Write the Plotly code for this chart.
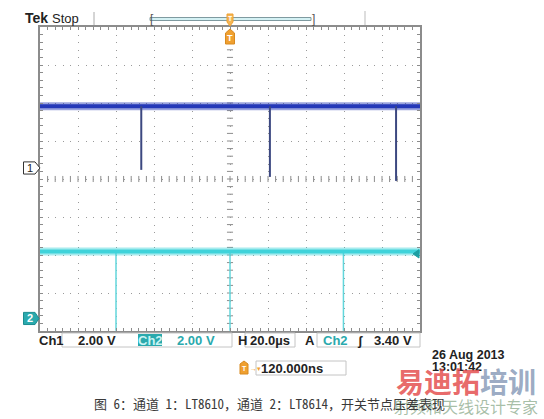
import plotly.graph_objects as go

# ---------------- data ----------------
time_range_us = [-100.0, 100.0]          # 10 div x 20.0 us/div
div_range = [-4.0, 4.0]                   # 8 vertical divisions

ch1_volts_per_div = 2.00
ch2_volts_per_div = 2.00
ch1_offset_div = 0.29                     # ground marker "1"
ch2_offset_div = -3.67                    # ground marker "2"
trigger_level_v = 3.40

ch1_level_v = 3.25
ch1_dip_times_us = [-46.7, 21.0, 87.4]
ch1_dip_min_v = [-0.10, -0.47, -0.68]

ch2_level_v = 3.53
ch2_dip_times_us = [-60.0, 0.0, 59.7]
ch2_dip_min_v = [-0.65, -0.65, -0.65]

info_labels = ["Ch1", "2.00 V", "Ch2", "2.00 V", "H", "20.0µs", "A", "Ch2", "ʃ", "3.40 V"]
trigger_delay_label = "120.000ns"
date_label = "26 Aug 2013"
time_label = "13:01:42"
caption = "图 6：通道 1：LT8610，通道 2：LT8614，开关节点压差表现"

# ---------------- helpers ----------------
W, H = 544, 419
L, R, T, B = 40, 420, 27, 331


def X(px):
    return (px - L) / (R - L)


def Y(py):
    return (B - py) / (B - T)


def to_div(v, vpd, off):
    return v / vpd + off


BLUE = "#2438b8"
BLUE_DIP = "#3c4880"
CYAN = "#3fd3da"
CYAN_DIP = "#62d6db"
TEAL = "#2aa9ad"
ORANGE = "#f0a030"
GRID = "#9a9a9a"
FRAME = "#8c8c8c"

fig = go.Figure()

# channel 1 band + dips
y1 = to_div(ch1_level_v, ch1_volts_per_div, ch1_offset_div)
fig.add_trace(go.Scatter(x=time_range_us, y=[y1, y1], mode="lines",
                         line=dict(color=BLUE, width=8), opacity=0.45, hoverinfo="skip"))
fig.add_trace(go.Scatter(x=time_range_us, y=[y1, y1], mode="lines",
                         line=dict(color=BLUE, width=4), hoverinfo="skip"))
dx, dy = [], []
for t, vmin in zip(ch1_dip_times_us, ch1_dip_min_v):
    dx += [t, t, None]
    dy += [y1, to_div(vmin, ch1_volts_per_div, ch1_offset_div), None]
fig.add_trace(go.Scatter(x=dx, y=dy, mode="lines",
                         line=dict(color=BLUE_DIP, width=2), hoverinfo="skip"))

# channel 2 band + dips
y2 = to_div(ch2_level_v, ch2_volts_per_div, ch2_offset_div)
dx, dy = [], []
for t, vmin in zip(ch2_dip_times_us, ch2_dip_min_v):
    dx += [t, t, None]
    dy += [y2, to_div(vmin, ch2_volts_per_div, ch2_offset_div), None]
fig.add_trace(go.Scatter(x=dx, y=dy, mode="lines",
                         line=dict(color=CYAN_DIP, width=1.5), hoverinfo="skip"))
fig.add_trace(go.Scatter(x=time_range_us, y=[y2, y2], mode="lines",
                         line=dict(color=CYAN, width=8), opacity=0.45, hoverinfo="skip"))
fig.add_trace(go.Scatter(x=time_range_us, y=[y2, y2], mode="lines",
                         line=dict(color=CYAN, width=4), hoverinfo="skip"))

shapes = []
# centre-line tick marks of the graticule
xdiv = (time_range_us[1] - time_range_us[0]) / 10.0
for i in range(-24, 25):
    t = i * xdiv / 5.0
    shapes.append(dict(type="line", xref="x", yref="y", x0=t, x1=t, y0=-0.08, y1=0.08,
                       line=dict(color=FRAME, width=1), layer="below"))
for i in range(-19, 20):
    d = i / 5.0
    shapes.append(dict(type="line", xref="x", yref="y", x0=-xdiv * 0.08, x1=xdiv * 0.08,
                       y0=d, y1=d, line=dict(color=FRAME, width=1), layer="below"))

# header decorations
shapes.append(dict(type="line", xref="paper", yref="paper", x0=X(94), x1=X(94), y0=Y(12), y1=Y(25),
                   line=dict(color="#aaaaaa", width=1)))
shapes.append(dict(type="rect", xref="paper", yref="paper", x0=X(150), x1=X(311), y0=Y(20.5), y1=Y(17.5),
                   line=dict(color="#7f9aa0", width=1), fillcolor="#d4f1f4"))
shapes.append(dict(type="line", xref="paper", yref="paper", x0=X(365), x1=X(365), y0=Y(11), y1=Y(25),
                   line=dict(color="#bbbbbb", width=1)))
# trigger position markers
shapes.append(dict(type="path", xref="paper", yref="paper",
                   path=f"M {X(227)} {Y(14)} L {X(233)} {Y(14)} L {X(233)} {Y(22)} L {X(230)} {Y(26)} L {X(227)} {Y(22)} Z",
                   fillcolor="#f3b555", line=dict(color=ORANGE, width=1)))
shapes.append(dict(type="path", xref="paper", yref="paper",
                   path=f"M {X(225.5)} {Y(44)} L {X(234.5)} {Y(44)} L {X(234.5)} {Y(33)} L {X(230)} {Y(29)} L {X(225.5)} {Y(33)} Z",
                   fillcolor=ORANGE, line=dict(color="#d88a20", width=1)))
# channel ground markers
shapes.append(dict(type="path", xref="paper", yref="y",
                   path=f"M {X(23.5)} {ch1_offset_div - 0.16} L {X(35)} {ch1_offset_div - 0.16} L {X(40)} {ch1_offset_div} "
                        f"L {X(35)} {ch1_offset_div + 0.16} L {X(23.5)} {ch1_offset_div + 0.16} Z",
                   fillcolor="white", line=dict(color="#333333", width=1)))
shapes.append(dict(type="path", xref="paper", yref="y",
                   path=f"M {X(23.5)} {ch2_offset_div - 0.16} L {X(35)} {ch2_offset_div - 0.16} L {X(39)} {ch2_offset_div} "
                        f"L {X(35)} {ch2_offset_div + 0.16} L {X(23.5)} {ch2_offset_div + 0.16} Z",
                   fillcolor=TEAL, line=dict(color="#1b8c90", width=1)))
# trigger level arrow (right edge)
ytrig = to_div(trigger_level_v, ch2_volts_per_div, ch2_offset_div)
shapes.append(dict(type="path", xref="paper", yref="y",
                   path=f"M {X(413)} {ytrig} L {X(419)} {ytrig + 0.11} L {X(419)} {ytrig - 0.11} Z",
                   fillcolor="#1c9ea2", line=dict(color="#1c9ea2", width=1)))

# readout boxes
for x0, x1, y0, y1 in [(62, 232, 333, 347), (245, 295, 333, 347), (317, 420, 333, 347), (256, 346, 361, 375)]:
    shapes.append(dict(type="rect", xref="paper", yref="paper", x0=X(x0), x1=X(x1), y0=Y(y1), y1=Y(y0),
                       line=dict(color="#c4c4c4", width=1), fillcolor="rgba(0,0,0,0)"))
shapes.append(dict(type="rect", xref="paper", yref="paper", x0=X(138), x1=X(162), y0=Y(346), y1=Y(334),
                   line=dict(width=0), fillcolor=TEAL))
# orange icon in delay row
shapes.append(dict(type="path", xref="paper", yref="paper",
                   path=f"M {X(240)} {Y(374)} L {X(248)} {Y(374)} L {X(248)} {Y(364)} L {X(244)} {Y(361)} L {X(240)} {Y(364)} Z",
                   fillcolor=ORANGE, line=dict(color="#d88a20", width=1)))

ann = []


def txt(x, y, s, size=13, color="#222222", bold=True, family="Liberation Sans", xanchor="left", yref="paper", xref="paper"):
    ann.append(dict(x=x, y=y, xref=xref, yref=yref, text=(f"<b>{s}</b>" if bold else s), showarrow=False,
                    xanchor=xanchor, yanchor="middle", font=dict(size=size, color=color, family=family)))


txt(X(23), Y(18), "Tek", size=14)
txt(X(50), Y(18), "Stop", size=13, bold=False)
txt(X(147.5), Y(18.5), "[", size=12, color="#555555", bold=False)
txt(X(309.5), Y(18.5), "]", size=12, color="#555555", bold=False)
txt(X(230), Y(19), "T", size=7, color="white", xanchor="center")
txt(X(230), Y(38), "T", size=9, color="white", xanchor="center")
txt(X(29.5), ch1_offset_div, "1", size=11, color="#222222", bold=False, xanchor="center", yref="y")
txt(X(29.5), ch2_offset_div, "2", size=11, color="white", xanchor="center", yref="y")

# readout row
row_y = Y(340.5)
txt(X(37), row_y, info_labels[0])
txt(X(76), row_y, info_labels[1])
txt(X(150), row_y, info_labels[2], color="#c8f4f4", xanchor="center")
txt(X(175), row_y, info_labels[3], color=TEAL)
txt(X(236), row_y, info_labels[4])
txt(X(248), row_y, info_labels[5])
txt(X(303), row_y, info_labels[6])
txt(X(321), row_y, info_labels[7], color=TEAL)
txt(X(355), row_y, info_labels[8], color="#222222")
txt(X(372), row_y, info_labels[9])

txt(X(244), Y(368.5), "T", size=7, color="white", xanchor="center")
txt(X(248), Y(368), "→▾", size=7, color=ORANGE, bold=False)
txt(X(259), Y(368.5), trigger_delay_label)
txt(X(430), Y(355), date_label, size=12.5)
txt(X(430), Y(367), time_label, size=12.5)

# watermark
ann.append(dict(x=X(466), y=Y(381), xref="paper", yref="paper", showarrow=False, xanchor="center", yanchor="middle",
                text="<b><span style='color:rgba(228,80,80,0.85)'>易迪拓</span><span style='color:rgba(130,150,180,0.8)'>培训</span></b>",
                font=dict(size=28, family="Noto Sans CJK SC")))
ann.append(dict(x=X(466), y=Y(406), xref="paper", yref="paper", showarrow=False, xanchor="center", yanchor="middle",
                text="射频和天线设计专家", font=dict(size=16, family="Noto Sans CJK SC", color="rgba(140,170,140,0.75)")))

# caption
ann.append(dict(x=X(92), y=Y(403), xref="paper", yref="paper", showarrow=False, xanchor="left", yanchor="middle",
                text=caption, font=dict(size=13, family="Noto Sans Mono CJK SC, Noto Sans CJK SC", color="#3a3a3a")))

axis_common = dict(showline=True, linecolor=FRAME, linewidth=2, mirror="ticks",
                   ticks="inside", ticklen=3, tickcolor=FRAME, tickwidth=1,
                   showticklabels=False, zeroline=False,
                   showgrid=True, gridcolor=GRID, gridwidth=1, griddash="1px,6.6px",
                   fixedrange=True)

fig.update_layout(
    width=W, height=H,
    margin=dict(l=L, r=W - R, t=T, b=H - B),
    paper_bgcolor="white", plot_bgcolor="white",
    showlegend=False,
    xaxis=dict(range=time_range_us, tick0=0, dtick=xdiv,
               minor=dict(dtick=xdiv / 5, ticks="inside", ticklen=3, tickcolor=FRAME, showgrid=False),
               **axis_common),
    yaxis=dict(range=div_range, tick0=0, dtick=1,
               minor=dict(dtick=0.2, ticks="inside", ticklen=3, tickcolor=FRAME, showgrid=False),
               **axis_common),
    shapes=shapes,
    annotations=ann,
)

fig.write_html("out.html", config={"displayModeBar": False},
               post_script="document.body.style.margin='0';document.body.style.overflow='hidden';")
